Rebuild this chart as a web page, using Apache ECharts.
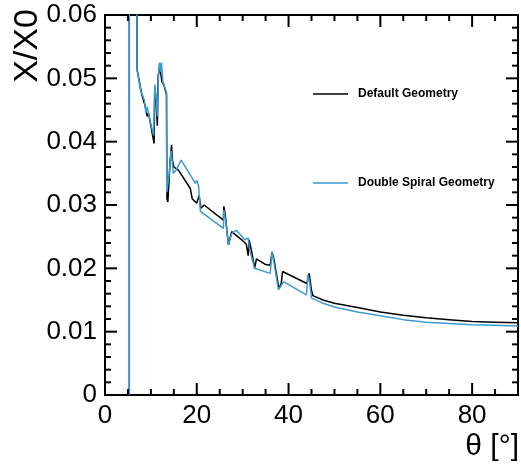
<!DOCTYPE html>
<html>
<head>
<meta charset="utf-8">
<script src="https://cdn.jsdelivr.net/npm/echarts@6/dist/echarts.min.js"></script>
<style>html,body{margin:0;padding:0;background:#fff}#c{width:521px;height:466px}</style>
</head>
<body>
<div id="c"></div>
<script>
var seriesNames = ['Default Geometry', 'Double Spiral Geometry'];
var xTickLabels = ['0', '20', '40', '60', '80'];
var yTickLabels = ['0', '0.01', '0.02', '0.03', '0.04', '0.05', '0.06'];
var xMajorTicks = [0, 20, 40, 60, 80];
var xMinorTicks = [5, 10, 15, 25, 30, 35, 45, 50, 55, 65, 70, 75, 85];
var yMajorTicks = [0, 0.01, 0.02, 0.03, 0.04, 0.05, 0.06];
var yMinorTicks = [0.002, 0.004, 0.006, 0.008, 0.012, 0.014, 0.016, 0.018, 0.022, 0.024, 0.026, 0.028,
  0.032, 0.034, 0.036, 0.038, 0.042, 0.044, 0.046, 0.048, 0.052, 0.054, 0.056, 0.058];

var defaultGeometry = [
  [5.3,0],[5.3,0.2],[6.96,0.2],[6.96,0.0515],[8.0,0.0475],[8.8,0.0455],[9.2,0.044],[9.5,0.0445],
  [10.7,0.0397],[10.85,0.0485],[11.1,0.047],[11.4,0.0425],[11.6,0.0505],[11.9,0.0515],[12.1,0.051],
  [12.4,0.0495],[12.8,0.049],[13.4,0.0475],[13.5,0.031],[13.7,0.0305],[14.2,0.037],[14.5,0.0395],
  [14.7,0.037],[15.0,0.036],[16.0,0.0355],[18.6,0.0326],[19.0,0.031],[20.0,0.0303],[20.5,0.0315],
  [20.9,0.0295],[21.6,0.030],[25.8,0.0276],[25.9,0.0298],[26.2,0.0285],[26.9,0.0237],[27.6,0.0258],
  [29.8,0.0245],[30.8,0.0238],[31.2,0.022],[31.4,0.0245],[32.0,0.0225],[32.6,0.020],[33.0,0.0215],
  [35.0,0.0206],[36.0,0.0205],[36.4,0.0226],[36.8,0.0215],[37.9,0.0168],[38.4,0.0176],[38.7,0.0195],
  [44.0,0.0176],[44.5,0.0192],[45.0,0.0165],[45.3,0.0157],[47.5,0.015],[50,0.0145],[55,0.0138],
  [60,0.0131],[65,0.0126],[70,0.0122],[75,0.0119],[80,0.0116],[85,0.0115],[90,0.0114]
];

var doubleSpiral = [
  [5.3,0],[5.3,0.2],[6.96,0.2],[6.96,0.0515],[7.8,0.048],[8.6,0.0465],[8.9,0.0445],[9.2,0.0455],
  [9.6,0.044],[10.6,0.041],[10.85,0.049],[11.2,0.0465],[11.4,0.044],[11.7,0.0515],[11.9,0.0525],
  [12.1,0.051],[12.3,0.0525],[12.6,0.0495],[13.4,0.0478],[13.45,0.032],[14.0,0.035],[14.4,0.0385],
  [14.9,0.035],[15.5,0.0355],[16.6,0.0371],[19.7,0.0334],[20.0,0.0339],[20.4,0.033],[20.8,0.029],
  [25.8,0.0263],[25.9,0.0292],[26.3,0.0275],[26.9,0.0237],[27.6,0.0255],[28.6,0.026],[30.5,0.0245],
  [31.2,0.0248],[31.5,0.023],[32.6,0.020],[36.0,0.0192],[36.4,0.0226],[36.8,0.021],[37.8,0.0166],
  [38.9,0.0179],[43.9,0.0158],[44.2,0.019],[44.6,0.0178],[45.0,0.0153],[47.5,0.0145],[50,0.0139],
  [55,0.0131],[60,0.0125],[65,0.0119],[70,0.0115],[75,0.0113],[80,0.0111],[85,0.0110],[90,0.0109]
];

var FONT = '"Liberation Sans", Arial, sans-serif';
var X_MIN = 0, X_MAX = 90, Y_MIN = 0, Y_MAX = 0.06;
var MAJ = 12, MIN = 6, TW = 2;

var chart = echarts.init(document.getElementById('c'), null, { renderer: 'canvas' });
chart.setOption({
  animation: false,
  backgroundColor: '#fff',
  grid: { left: 105, right: 1, top: 15, bottom: 71, containLabel: false, show: true,
    borderColor: '#000', borderWidth: 2, backgroundColor: 'transparent' },
  xAxis: {
    type: 'value', min: X_MIN, max: X_MAX, interval: 20,
    axisLine: { show: false, onZero: false },
    axisTick: { show: false },
    axisLabel: { show: true, margin: 8, color: '#000', fontSize: 26, fontFamily: FONT,
      formatter: function (v) { var i = Math.round(v / 20); return xTickLabels[i] || ''; } },
    splitLine: { show: false }
  },
  yAxis: {
    type: 'value', min: Y_MIN, max: Y_MAX, interval: 0.01,
    axisLine: { show: false, onZero: false },
    axisTick: { show: false },
    axisLabel: { show: true, margin: 8, color: '#000', fontSize: 26, fontFamily: FONT,
      formatter: function (v) { var i = Math.round(v / 0.01); return yTickLabels[i] || ''; } },
    splitLine: { show: false }
  },
  legend: [
    { data: [seriesNames[0]], left: 313, top: 88, padding: 0, icon: 'rect', itemWidth: 35, itemHeight: 1.5, itemGap: 0,
      textStyle: { fontSize: 12, fontWeight: 'bold', fontFamily: FONT, color: '#000', padding: [0, 0, 0, 5] } },
    { data: [seriesNames[1]], left: 313, top: 177, padding: 0, icon: 'rect', itemWidth: 35, itemHeight: 1.5, itemGap: 0,
      textStyle: { fontSize: 12, fontWeight: 'bold', fontFamily: FONT, color: '#000', padding: [0, 0, 0, 5] } }
  ],
  series: [
    { name: seriesNames[0], type: 'line', data: defaultGeometry, symbol: 'none', clip: true,
      lineStyle: { color: '#000', width: 1.5 }, itemStyle: { color: '#000' } },
    { name: seriesNames[1], type: 'line', data: doubleSpiral, symbol: 'none', clip: true,
      lineStyle: { color: '#3a9ad3', width: 1.5 }, itemStyle: { color: '#3a9ad3' } }
  ]
});

// Tick marks placed through the chart's own axis scales (convertToPixel)
var els = [
  { type: 'text', x: 28, y: 46, rotation: Math.PI / 2,
    style: { text: 'X/X0', font: '34px ' + FONT, fill: '#000', textAlign: 'center', textVerticalAlign: 'middle' } },
  { type: 'text', x: 519, y: 447,
    style: { text: 'θ [°]', font: '30px ' + FONT, fill: '#000', textAlign: 'right', textVerticalAlign: 'middle' } }
];
function px(v) { return chart.convertToPixel({ gridIndex: 0 }, v); }
function xTick(v, L) {
  var b = px([v, Y_MIN]), t = px([v, Y_MAX]);
  els.push({ type: 'rect', z: 50, shape: { x: b[0] - TW / 2, y: b[1] - L, width: TW, height: L }, style: { fill: '#000' } });
  els.push({ type: 'rect', z: 50, shape: { x: t[0] - TW / 2, y: t[1], width: TW, height: L }, style: { fill: '#000' } });
}
function yTick(v, L) {
  var l = px([X_MIN, v]), r = px([X_MAX, v]);
  els.push({ type: 'rect', z: 50, shape: { x: l[0], y: l[1] - TW / 2, width: L, height: TW }, style: { fill: '#000' } });
  els.push({ type: 'rect', z: 50, shape: { x: r[0] - L, y: r[1] - TW / 2, width: L, height: TW }, style: { fill: '#000' } });
}
xMajorTicks.forEach(function (v) { xTick(v, MAJ); });
xMinorTicks.forEach(function (v) { xTick(v, MIN); });
yMajorTicks.forEach(function (v) { yTick(v, MAJ); });
yMinorTicks.forEach(function (v) { yTick(v, MIN); });
chart.setOption({ graphic: { elements: els } });
</script>
</body>
</html>
